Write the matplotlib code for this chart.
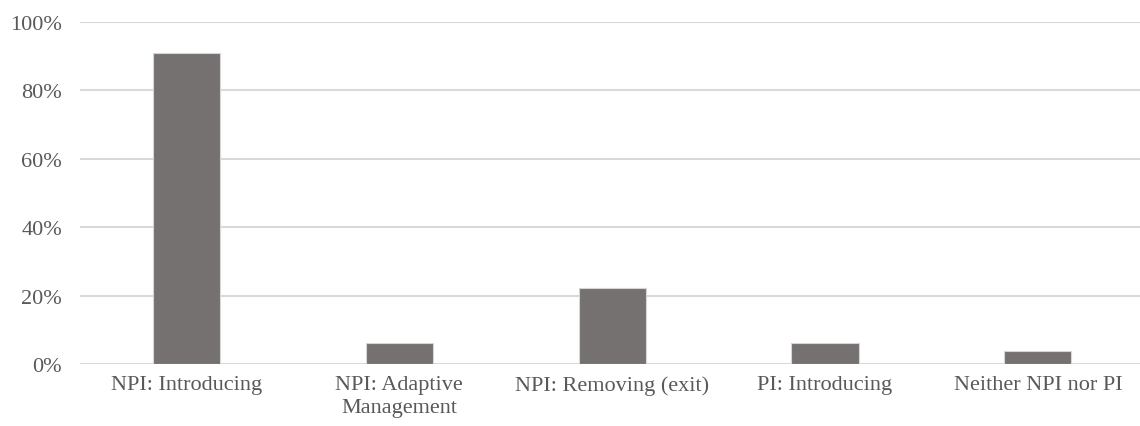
import matplotlib.pyplot as plt
from matplotlib.ticker import PercentFormatter

# Data
categories = ['NPI: Introducing', 'NPI: Adaptive\nManagement', 'NPI: Removing (exit)',
              'PI: Introducing', 'Neither NPI nor PI']
shares = [0.909, 0.060, 0.222, 0.060, 0.037]
y_ticks = [0, 0.2, 0.4, 0.6, 0.8, 1.0]

plt.rcParams['font.family'] = ['Liberation Serif', 'DejaVu Serif']

fig = plt.figure(figsize=(11.4, 4.27), dpi=100)
ax = fig.add_axes([80 / 1140, 62 / 427, 1 - 80 / 1140, 342 / 427])

x = range(len(categories))
ax.bar(x, shares, width=0.315, color='#767171', edgecolor='#d6d6d6', linewidth=0.8, zorder=3)

ax.set_ylim(0, 1.0)
ax.set_xlim(-0.5, 4.48)
ax.set_yticks(y_ticks)
ax.yaxis.set_major_formatter(PercentFormatter(1.0, decimals=0))
ax.set_xticks(list(x))
ax.set_xticklabels(categories, linespacing=1.3)

ax.grid(axis='y', color='#d9d9d9', linewidth=1.5, zorder=0)
ax.set_axisbelow(True)
for s in ax.spines.values():
    s.set_visible(False)
ax.tick_params(length=0, labelsize=16, colors='#595959', pad=8)
ax.tick_params(axis='y', pad=13)

fig.savefig('out.png', dpi=100)
